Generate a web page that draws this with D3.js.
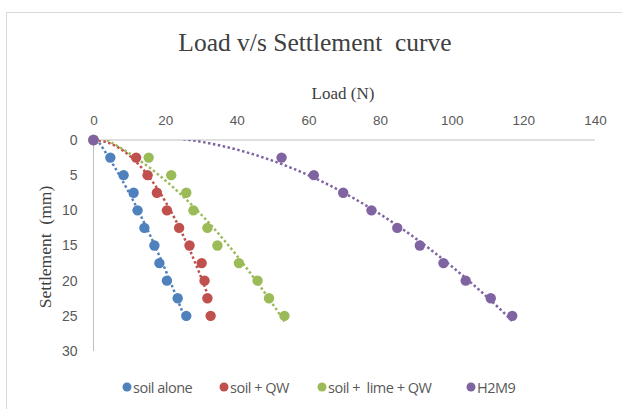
<!DOCTYPE html>
<html><head><meta charset="utf-8">
<script src="https://cdn.jsdelivr.net/npm/d3@7/dist/d3.min.js"></script>
<style>body{margin:0;background:#fff}svg{display:block}text{white-space:pre}</style>
</head><body>
<svg id="c" width="622" height="409"></svg>
<script>
const settlement = [0, 2.5, 5, 7.5, 10, 12.5, 15, 17.5, 20, 22.5, 25];
const loadSoilAlone = [0, 4.7, 8.4, 11.2, 12.3, 14.2, 17.0, 18.4, 20.5, 23.5, 25.9];
const loadSoilQW = [0, 11.9, 15.1, 17.7, 20.5, 23.9, 26.8, 30.2, 31.0, 31.8, 32.7];
const loadSoilLimeQW = [0, 15.4, 21.7, 25.9, 27.9, 31.8, 34.6, 40.6, 45.8, 49.0, 53.3];
const loadH2M9 = [0, 52.5, 61.5, 69.7, 77.6, 84.8, 91.1, 97.7, 103.9, 110.9, 116.9];
const seriesNames = ["soil alone", "soil + QW", "soil +  lime + QW", "H2M9"];
const seriesColors = ["#4F81BD", "#C0504D", "#9BBB59", "#8064A2"];
const xTicks = [0, 20, 40, 60, 80, 100, 120, 140];
const yTicks = [0, 5, 10, 15, 20, 25, 30];

const seriesLoads = [loadSoilAlone, loadSoilQW, loadSoilLimeQW, loadH2M9];
const svg = d3.select("#c");
const L = 93.5, R = 595, T = 140, B = 351;
const x = d3.scaleLinear().domain([0, 140]).range([L, R]);
const y = d3.scaleLinear().domain([0, 30]).range([T, B]);

// border
svg.append("rect").attr("x", 6.5).attr("y", 12.5).attr("width", 640).attr("height", 420)
  .attr("fill", "none").attr("stroke", "#d9d9d9").attr("stroke-width", 1);

// titles
svg.append("text").attr("x", 315).attr("y", 51).attr("text-anchor", "middle")
  .attr("font-family", "Liberation Serif, serif").attr("font-size", 25.5).attr("fill", "#404040")
  .text("Load v/s Settlement  curve");
svg.append("text").attr("x", 343).attr("y", 99).attr("text-anchor", "middle")
  .attr("font-family", "Liberation Serif, serif").attr("font-size", 17).attr("fill", "#404040")
  .text("Load (N)");
svg.append("text").attr("transform", "translate(51,247) rotate(-90)").attr("text-anchor", "middle")
  .attr("font-family", "Liberation Serif, serif").attr("font-size", 17.5).attr("fill", "#404040")
  .text("Settlement  (mm)");

// axes
const xAxis = d3.axisTop(x).tickValues(xTicks).tickSize(0).tickPadding(15);
const gx = svg.append("g").attr("transform", `translate(0,${T})`).call(xAxis);
gx.select(".domain").attr("stroke", "#bfbfbf").attr("d", `M${L},0H${R}`);
gx.selectAll("text").attr("font-family", "Liberation Sans, sans-serif").attr("font-size", 13.5).attr("fill", "#595959");

const yAxis = d3.axisLeft(y).tickValues(yTicks).tickSize(0).tickPadding(16);
const gy = svg.append("g").attr("transform", `translate(${L},0)`).call(yAxis);
gy.select(".domain").attr("stroke", "#bfbfbf").attr("d", `M0,${T}V${B}`);
gy.selectAll("text").attr("font-family", "Liberation Sans, sans-serif").attr("font-size", 14).attr("fill", "#595959");

// clip
svg.append("clipPath").attr("id", "plot").append("rect")
  .attr("x", L).attr("y", T).attr("width", R - L).attr("height", B - T);

// quadratic trendline fit y = a + b x + c x^2
function quadFit(xs, ys) {
  let S = [0,0,0,0,0], Ty = [0,0,0];
  xs.forEach((xv, i) => {
    let p = 1;
    for (let k = 0; k < 5; k++) { S[k] += p; if (k < 3) Ty[k] += p * ys[i]; p *= xv; }
  });
  const M = [[S[0],S[1],S[2],Ty[0]],[S[1],S[2],S[3],Ty[1]],[S[2],S[3],S[4],Ty[2]]];
  for (let i = 0; i < 3; i++) {
    let piv = i;
    for (let r = i+1; r < 3; r++) if (Math.abs(M[r][i]) > Math.abs(M[piv][i])) piv = r;
    [M[i], M[piv]] = [M[piv], M[i]];
    for (let r = 0; r < 3; r++) if (r !== i) {
      const f = M[r][i] / M[i][i];
      for (let c = i; c < 4; c++) M[r][c] -= f * M[i][c];
    }
  }
  return [M[0][3]/M[0][0], M[1][3]/M[1][1], M[2][3]/M[2][2]];
}

const line = d3.line().x(d => x(d[0])).y(d => y(d[1]));
seriesLoads.forEach((loads, si) => {
  const [a, b, c] = quadFit(loads, settlement);
  const xmax = d3.max(loads);
  const pts = d3.range(0, 201).map(i => { const xv = xmax * i / 200; return [xv, a + b*xv + c*xv*xv]; });
  svg.append("path").attr("clip-path", "url(#plot)").attr("d", line(pts))
    .attr("fill", "none").attr("stroke", seriesColors[si]).attr("stroke-width", 2.5)
    .attr("stroke-dasharray", "2.5,2.5");
});
seriesLoads.forEach((loads, si) => {
  svg.append("g").selectAll("circle").data(loads.map((l, i) => [l, settlement[i]])).join("circle")
    .attr("cx", d => x(d[0])).attr("cy", d => y(d[1])).attr("r", 5.2)
    .attr("fill", seriesColors[si]);
});

// legend
const legX = [127, 224, 322, 471];
seriesNames.forEach((n, i) => {
  svg.append("circle").attr("cx", legX[i]).attr("cy", 387).attr("r", 4.5).attr("fill", seriesColors[i]);
  svg.append("text").attr("x", legX[i] + 6).attr("y", 392.5)
    .attr("font-family", "Open Sans, sans-serif").attr("font-size", 14.5).attr("fill", "#595959")
    .attr("letter-spacing", -0.5)
    .text(n);
});
</script>
</body></html>
